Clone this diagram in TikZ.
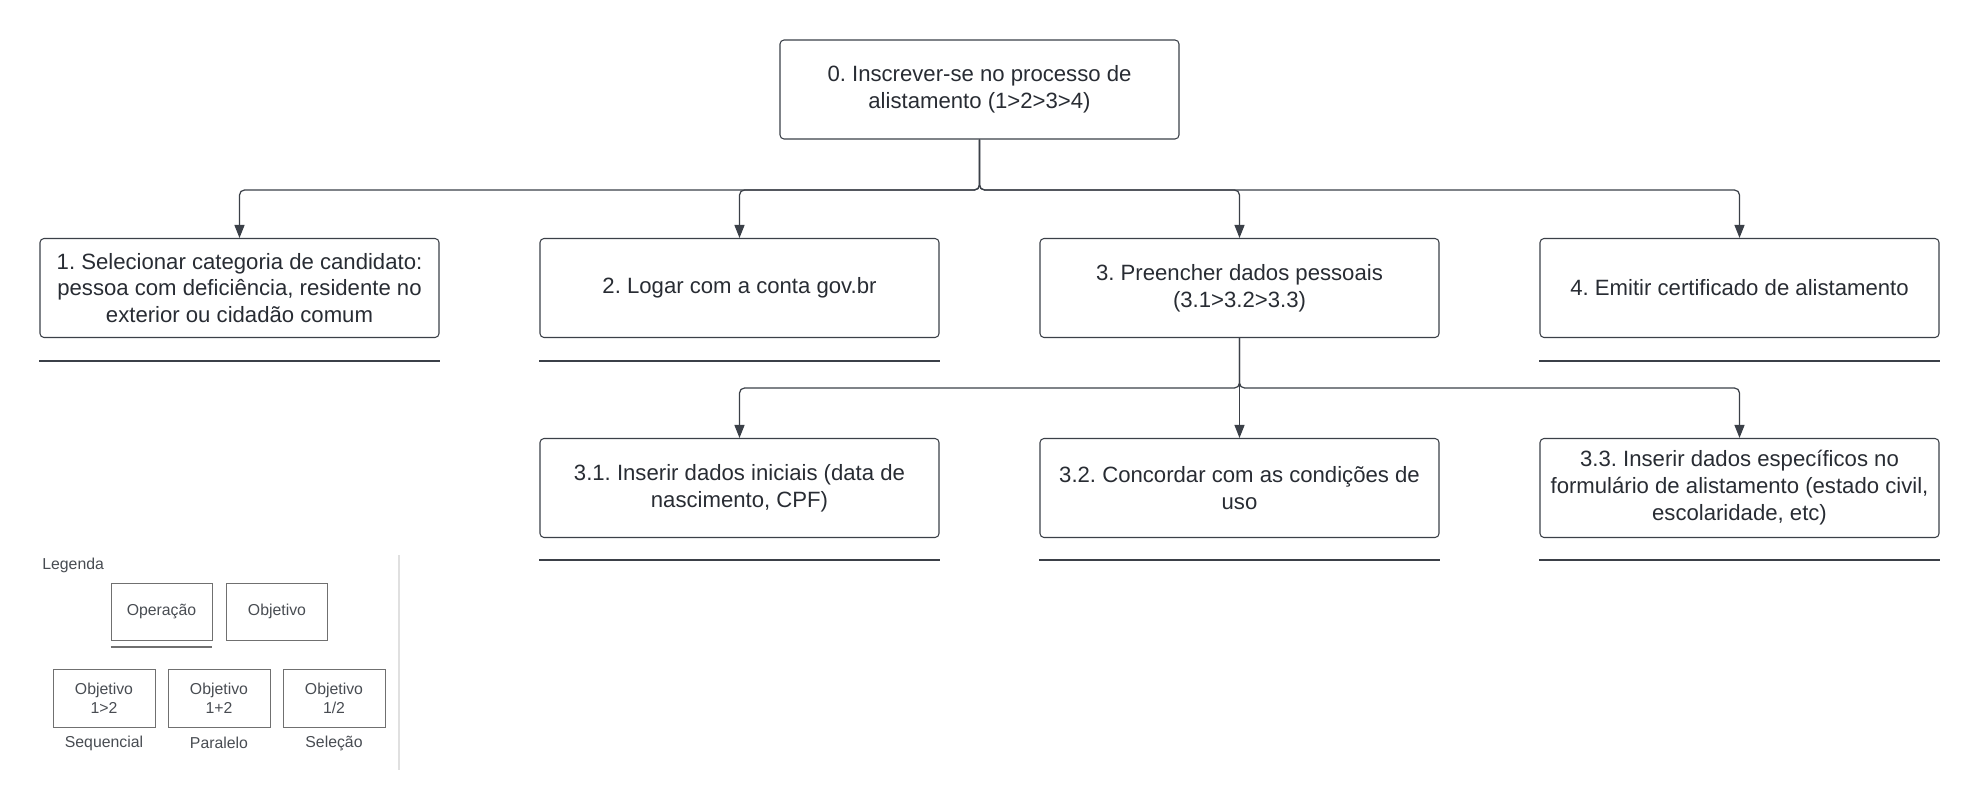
\documentclass[tikz,border=0pt]{standalone}
\usepackage{fontspec}
\setmainfont{Liberation Sans}
\usetikzlibrary{positioning,calc}
\usetikzlibrary{arrows.meta}
\definecolor{texto}{HTML}{282C33}
\definecolor{linha}{HTML}{3B4048}
\definecolor{cinza}{HTML}{707070}
\tikzstyle{objetivo} = [rectangle, 
rounded corners=0.08cm, minimum width=7.98cm, minimum height=1.98cm, text centered, align=center, draw=linha, line width=0.6pt, text=texto, font=\fontsize{12.6}{15.3}\selectfont]
\tikzstyle{arrow} = [line width=0.7pt, draw=linha, rounded corners=0.1cm, -{Triangle[length=0.26cm,width=0.2cm]}]
\tikzstyle{operacao} = [line width=0.7pt, draw=linha]
\tikzstyle{leg} = [rectangle, minimum width=2.04cm, minimum height=1.16cm, align=center, draw=cinza, line width=0.5pt, text=texto!85, font=\fontsize{9}{10.8}\selectfont]
\tikzstyle{legtexto} = [text=texto!85, font=\fontsize{9}{10.8}\selectfont]

\begin{document}
\frenchspacing
\begin{tikzpicture}
						\useasboundingbox (0,0) rectangle (39.6,-16.2);
						\node (g0) at (19.59,-1.79) [objetivo] {0. Inscrever-se no processo de\\alistamento (1>2>3>4)};
						\node (g1) at (4.79,-5.76) [objetivo] {1. Selecionar categoria de candidato:\\pessoa com deficiência, residente no\\exterior ou cidadão comum};
						\node (g2) at (14.79,-5.76) [objetivo] {2. Logar com a conta gov.br};
						\node (g3) at (24.79,-5.76) [objetivo] {3. Preencher dados pessoais\\(3.1>3.2>3.3)};
						\node (g4) at (34.79,-5.76) [objetivo] {4. Emitir certificado de alistamento};
						\node (g31) at (14.79,-9.76) [objetivo] {3.1. Inserir dados iniciais (data de\\nascimento, CPF)};
						\node (g32) at (24.79,-9.76) [objetivo] {3.2. Concordar com as condições de\\uso};
						\node (g33) at (34.79,-9.76) [objetivo] {3.3. Inserir dados específicos no\\formulário de alistamento (estado civil,\\escolaridade, etc)};
						\coordinate (j0) at (19.59,-3.8);
						\coordinate (j3) at (24.79,-7.76);
						\draw[arrow] (g0.south) -- (j0) -| (g1.north);
						\draw[arrow] (g0.south) -- (j0) -| (g2.north);
						\draw[arrow] (g0.south) -- (j0) -| (g3.north);
						\draw[arrow] (g0.south) -- (j0) -| (g4.north);
						\draw[arrow] (g3.south) -- (j3) -| (g31.north);
						\draw[arrow] (g3.south) -- (g32.north);
						\draw[arrow] (g3.south) -- (j3) -| (g33.north);
						\foreach \n in {g1,g2,g4}
							\draw[operacao] ([yshift=-0.46cm]\n.south west) -- ([yshift=-0.46cm]\n.south east);
						\foreach \n in {g31,g32,g33}
							\draw[operacao] ([yshift=-0.44cm]\n.south west) -- ([yshift=-0.44cm]\n.south east);
						\node[legtexto, anchor=west, inner sep=0pt] (legenda) at (0.84,-11.3) {Legenda};
						\node[leg, minimum width=2.02cm, minimum height=1.14cm] (lop) at (3.23,-12.23) {Operação};
						\node[leg, minimum width=2.02cm, minimum height=1.14cm] (lob) at (5.54,-12.23) {Objetivo};
						\draw[cinza, line width=1.1pt] ([yshift=-0.14cm]lop.south west) -- ([yshift=-0.14cm]lop.south east);
						\node[leg] (lseq) at (2.08,-13.96) {Objetivo\\1>2};
						\node[leg] (lpar) at (4.38,-13.96) {Objetivo\\1+2};
						\node[leg] (lsel) at (6.68,-13.96) {Objetivo\\1/2};
						\node[legtexto] at (2.08,-14.86) {Sequencial};
						\node[legtexto] at (4.38,-14.86) {Paralelo};
						\node[legtexto] at (6.68,-14.86) {Seleção};
						\coordinate (lt) at (7.98,-11.1);
						\coordinate (lb) at (7.98,-15.4);
						\draw[black!12, line width=0.6pt] (lt) -- (lb);
					\end{tikzpicture}
\end{document}
